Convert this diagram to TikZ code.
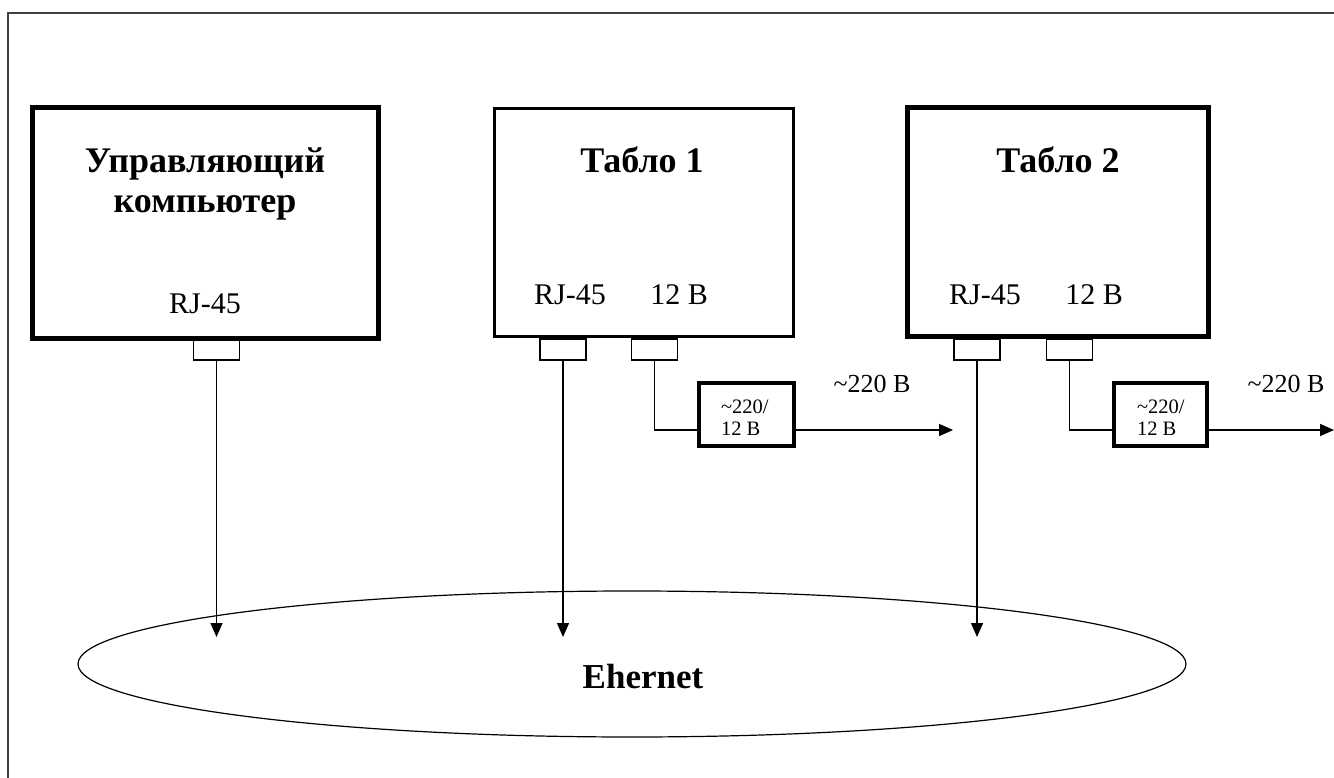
\documentclass[tikz,border=0pt]{standalone}
\usepackage{fontspec}
\setmainfont{Liberation Serif}
\usetikzlibrary{arrows.meta,calc,shapes.geometric}
\begin{document}
\begin{tikzpicture}[x=1pt,y=-1pt,
  every node/.style={inner sep=0pt, outer sep=0pt},
  unit/.style={draw, rectangle, line width=#1},
  port/.style={draw, rectangle, line width=1.4pt, minimum width=46pt, minimum height=21pt, anchor=north},
  wire/.style={line width=1.4pt},
  arr/.style={wire, -{Triangle[length=14pt,width=12pt]}},
  title/.style={font=\fontsize{36}{40}\selectfont\bfseries, anchor=base},
  lab/.style={font=\fontsize{30}{32}\selectfont, anchor=base},
  small/.style={font=\fontsize{20.5}{22}\selectfont, anchor=base west},
]
\useasboundingbox (0,0) rectangle (1334,778);
\clip (0,0) rectangle (1334,778);
% outer frame
\draw[line width=1.5pt, black!75] (8,13) rectangle (1345,800);

% main units
\node[unit=5pt, minimum width=346pt, minimum height=231pt] (comp) at (205.5,223) {};
\node[unit=3pt, minimum width=299pt, minimum height=228pt] (t1) at (644,222.5) {};
\node[unit=5pt, minimum width=301pt, minimum height=229pt] (t2) at (1058,222) {};

% titles
\node[title] (compA) at (205,173) {Управляющий};
\node[title] (compB) at (205,213) {компьютер};
\node[title] (t1T) at (642,173) {Табло 1};
\node[title] (t2T) at (1058,173) {Табло 2};

% port labels
\node[lab] (compRJ) at (205,313) {RJ-45};
\node[lab] (t1RJ) at (570,305) {RJ-45};
\node[lab] (t1V) at (679,305) {12 В};
\node[lab] (t2RJ) at (985,305) {RJ-45};
\node[lab] (t2V) at (1094,305) {12 В};

% ports
\node[port] (cp) at (216.5,339) {};
\node[port] (t1p) at (563,339) {};
\node[port] (t1q) at (654.5,339) {};
\node[port] (t2p) at (977,339) {};
\node[port] (t2q) at (1069.5,339) {};

% converters
\node[unit=4.5pt, minimum width=95pt, minimum height=63pt] (cv1) at (746.5,414.5) {};
\node[unit=4.5pt, minimum width=93pt, minimum height=63pt] (cv2) at (1160.5,414.5) {};
\node[small] (cv1a) at (721,413) {\textasciitilde220/};
\node[small] (cv1b) at (721,435) {12 В};
\node[small] (cv2a) at (1137,413) {\textasciitilde220/};
\node[small] (cv2b) at (1137,435) {12 В};

% voltage labels
\node[font=\fontsize{26}{28}\selectfont, anchor=base] (v1) at (872,392) {\textasciitilde220 В};
\node[font=\fontsize{26}{28}\selectfont, anchor=base] (v2) at (1286,392) {\textasciitilde220 В};

% Ethernet
\node[draw, ellipse, line width=1.2pt, minimum width=1108pt, minimum height=146pt] (eth) at (632,664) {};
\node[title, font=\fontsize{35}{40}\selectfont\bfseries] (ethT) at (643,688) {Ehernet};

% coordinates
\coordinate (ca) at (216.5,637);
\coordinate (t1a) at (563,637);
\coordinate (t2a) at (977,637);
\coordinate (cv1l) at ($(cv1.west)+(0,15.5)$);
\coordinate (cv1r) at ($(cv1.east)+(0,15.5)$);
\coordinate (cv2l) at ($(cv2.west)+(0,15.5)$);
\coordinate (cv2r) at ($(cv2.east)+(0,15.5)$);
\coordinate (out1) at (953,430);
\coordinate (out2) at (1334,430);

% connectors
\draw[arr] (cp.south) -- (ca);
\draw[arr] (t1p.south) -- (t1a);
\draw[arr] (t2p.south) -- (t2a);
\draw[wire] (t1q.south) |- (cv1l);
\draw[wire] (t2q.south) |- (cv2l);
\draw[arr] (cv1r) -- (out1);
\draw[arr] (cv2r) -- (out2);
\end{tikzpicture}
\end{document}
